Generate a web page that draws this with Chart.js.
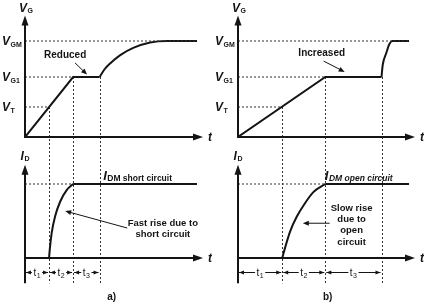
<!DOCTYPE html>
<html>
<head>
<meta charset="utf-8">
<script src="https://cdn.jsdelivr.net/npm/chart.js@4"></script>
<style>
html, body { margin: 0; padding: 0; background: #fff; }
#wrap { position: relative; width: 424px; height: 302px; }
.col { position: absolute; top: 0; width: 212px; height: 302px; }
</style>
</head>
<body>
<div id="wrap">
  <div class="col" style="left:0"><canvas id="chartA"></canvas></div>
  <div class="col" style="left:212px"><canvas id="chartB"></canvas></div>
</div>
<script>
// gate voltage levels (V_T, V_G1, V_GM) and drain current plateau
var levelSubs = ['T', 'G1', 'GM'];
var levelValues = [1, 2, 3.2];
var idmValue = 1;
var tEnd = 7.15;

// ends of t1, t2, t3
var phaseSubs = ['1', '2', '3'];
var phaseEndsA = [1, 2, 3.1];
var phaseEndsB = [1.85, 3.65, 6.0];

// a) short circuit
var vgLineA = [[0, 0], [2, 2], [3.1, 2]];
var vgRiseA = [[3.1, 2], [3.3, 2.25], [3.55, 2.46], [3.96, 2.73], [4.5, 2.97], [5.2, 3.15], [5.9, 3.2], [7.15, 3.2]];
var idRiseA = [[1, 0], [1.04, 0.15], [1.11, 0.34], [1.25, 0.56], [1.46, 0.76], [1.74, 0.92], [2, 1]];
var idFlatA = [[2, 1], [7.15, 1]];

// b) open circuit
var vgLineB = [[0, 0], [3.65, 2], [6.0, 2]];
var vgRiseB = [[6.0, 2], [6.05, 2.4], [6.2, 2.8], [6.33, 3.1], [6.46, 3.2], [7.15, 3.2]];
var idRiseB = [[1.85, 0], [1.97, 0.14], [2.18, 0.36], [2.46, 0.56], [2.8, 0.74], [3.15, 0.89], [3.65, 1]];
var idFlatB = [[3.65, 1], [7.15, 1]];

var FONT = '"Liberation Sans", Arial, sans-serif';
var INK = '#141414';
var xMax = 7.4, vAxisTop = 4.05, iAxisTop = 1.26, dimRow = -0.19, dimTickEnd = -0.34;

function xy(arr) {
  return arr.map(function (p) { return { x: p[0], y: p[1] }; });
}

function solid(pts, axis, smooth) {
  return {
    data: xy(pts), yAxisID: axis, showLine: true, pointRadius: 0,
    borderColor: INK, borderWidth: 2, fill: false, tension: 0,
    cubicInterpolationMode: smooth ? 'monotone' : 'default'
  };
}

function dotted(pts, axis) {
  return {
    data: xy(pts), yAxisID: axis, showLine: true, pointRadius: 0,
    borderColor: '#333', borderWidth: 1, borderDash: [2, 2], fill: false
  };
}

function head(ctx, x1, y1, x2, y2, len, half) {
  var a = Math.atan2(y2 - y1, x2 - x1), c = Math.cos(a), s = Math.sin(a);
  ctx.beginPath();
  ctx.moveTo(x2, y2);
  ctx.lineTo(x2 - len * c + half * s, y2 - len * s - half * c);
  ctx.lineTo(x2 - len * c - half * s, y2 - len * s + half * c);
  ctx.closePath();
  ctx.fill();
}

function arrow(ctx, x1, y1, x2, y2, len, half) {
  var a = Math.atan2(y2 - y1, x2 - x1);
  ctx.beginPath();
  ctx.moveTo(x1, y1);
  ctx.lineTo(x2 - len * 0.7 * Math.cos(a), y2 - len * 0.7 * Math.sin(a));
  ctx.stroke();
  head(ctx, x1, y1, x2, y2, len, half);
}

function subText(ctx, x, y, main, sub, mainFont, subFont, subDy) {
  ctx.font = mainFont;
  ctx.fillText(main, x, y);
  var w = ctx.measureText(main).width;
  ctx.font = subFont;
  ctx.fillText(sub, x + w + 0.5, y + subDy);
  return w + 0.5 + ctx.measureText(sub).width;
}

function subWidth(ctx, main, sub, mainFont, subFont) {
  ctx.font = mainFont;
  var w = ctx.measureText(main).width;
  ctx.font = subFont;
  return w + 0.5 + ctx.measureText(sub).width;
}

function makeDiagram(s) {
  return {
    id: 'diagram',
    beforeDatasetsDraw: function (chart) {
      var ctx = chart.ctx, x = chart.scales.x, v = chart.scales.v, i = chart.scales.i;
      ctx.save();
      ctx.strokeStyle = '#333';
      ctx.lineWidth = 1;
      ctx.setLineDash([2, 2]);
      s.ends.forEach(function (t, k) {
        var px = Math.round(x.getPixelForValue(t)) + 0.5;
        ctx.beginPath();
        ctx.moveTo(px, v.getPixelForValue(s.guideFrom[k]));
        ctx.lineTo(px, i.getPixelForValue(dimTickEnd));
        ctx.stroke();
      });
      ctx.restore();
    },
    afterDatasetsDraw: function (chart) {
      var ctx = chart.ctx, x = chart.scales.x, v = chart.scales.v, i = chart.scales.i;
      var x0 = x.getPixelForValue(0), xTip = x.getPixelForValue(xMax);
      ctx.save();
      ctx.fillStyle = INK;
      ctx.strokeStyle = INK;
      ctx.lineWidth = 2;

      // axes of both panels
      var vy0 = v.getPixelForValue(0), vTop = v.getPixelForValue(vAxisTop);
      var iy0 = i.getPixelForValue(0), iTop = i.getPixelForValue(iAxisTop), iBot = i.getPixelForValue(dimTickEnd);
      ctx.beginPath();
      ctx.moveTo(x0, vy0); ctx.lineTo(x0, vTop + 6);
      ctx.moveTo(x0 - 1, vy0); ctx.lineTo(xTip - 6, vy0);
      ctx.moveTo(x0, iBot); ctx.lineTo(x0, iTop + 6);
      ctx.moveTo(x0 - 1, iy0); ctx.lineTo(xTip - 6, iy0);
      ctx.stroke();
      head(ctx, x0, vy0, x0, vTop, 10, 3.5);
      head(ctx, x0, vy0, xTip, vy0, 10, 3.5);
      head(ctx, x0, iy0, x0, iTop, 10, 3.5);
      head(ctx, x0, iy0, xTip, iy0, 10, 3.5);

      // axis names
      var big = 'italic bold 12px ' + FONT, small = 'bold 7px ' + FONT;
      ctx.textBaseline = 'alphabetic';
      ctx.textAlign = 'left';
      var w = subWidth(ctx, 'V', 'G', big, small);
      subText(ctx, x0 - w / 2 + 1, vTop - 4, 'V', 'G', big, small, 1);
      w = subWidth(ctx, 'I', 'D', big, small);
      subText(ctx, x0 - w / 2, iTop - 5, 'I', 'D', big, small, 1);
      ctx.font = big;
      ctx.fillText('t', xTip + 5, vy0 + 4);
      ctx.fillText('t', xTip + 5, iy0 + 4);

      // level labels
      levelValues.forEach(function (lv, k) {
        subText(ctx, x0 - 23, v.getPixelForValue(lv) + 4, 'V', levelSubs[k], big, small, 2);
      });

      // I_DM title
      subText(ctx, x.getPixelForValue(s.iTitle.t), i.getPixelForValue(s.iTitle.i), 'I', s.iTitle.sub,
        'italic bold 13px ' + FONT, (s.iTitle.italic ? 'italic ' : '') + 'bold 8.5px ' + FONT, 1);

      // notes
      ctx.font = 'bold 10px ' + FONT;
      ctx.textAlign = 'center';
      ctx.textBaseline = 'middle';
      ctx.fillText(s.vNote.text, x.getPixelForValue(s.vNote.t), v.getPixelForValue(s.vNote.v));
      ctx.font = 'bold 9.5px ' + FONT;
      var ny = i.getPixelForValue(s.iNote.i);
      s.iNote.lines.forEach(function (ln, k) {
        ctx.fillText(ln, x.getPixelForValue(s.iNote.t), ny + k * s.iNote.gap);
      });
      ctx.lineWidth = 1;
      var a = s.vNote.arrow;
      arrow(ctx, x.getPixelForValue(a[0]), v.getPixelForValue(a[1]), x.getPixelForValue(a[2]), v.getPixelForValue(a[3]), 6, 2.5);
      a = s.iNote.arrow;
      arrow(ctx, x.getPixelForValue(a[0]), i.getPixelForValue(a[1]), x.getPixelForValue(a[2]), i.getPixelForValue(a[3]), 6, 2.5);

      // t1 t2 t3 dimension row
      var dy = Math.round(i.getPixelForValue(dimRow)) + 0.5;
      var bounds = [0].concat(s.ends);
      for (var k = 0; k < 3; k++) {
        var xa = x.getPixelForValue(bounds[k]) + 1, xb = x.getPixelForValue(bounds[k + 1]) - 1;
        ctx.beginPath();
        ctx.moveTo(xa, dy); ctx.lineTo(xb, dy);
        ctx.stroke();
        head(ctx, xb, dy, xa, dy, 5, 2);
        head(ctx, xa, dy, xb, dy, 5, 2);
        var lf = '10px ' + FONT, sf = '7px ' + FONT;
        var lw = subWidth(ctx, 't', phaseSubs[k], lf, sf);
        var xm = (xa + xb) / 2;
        ctx.fillStyle = '#fff';
        ctx.fillRect(xm - lw / 2 - 1.5, dy - 4, lw + 3, 8);
        ctx.fillStyle = INK;
        ctx.textAlign = 'left';
        ctx.textBaseline = 'alphabetic';
        subText(ctx, xm - lw / 2, dy + 3, 't', phaseSubs[k], lf, sf, 2);
      }

      // caption
      ctx.font = 'bold 10px ' + FONT;
      ctx.textAlign = 'center';
      ctx.textBaseline = 'middle';
      ctx.fillText(s.caption.text, x.getPixelForValue(s.caption.t), i.getPixelForValue(s.caption.i));
      ctx.restore();
    }
  };
}

function build(id, padLeft, data, s) {
  var h = 302;
  new Chart(document.getElementById(id), {
    type: 'scatter',
    data: { datasets: data },
    options: {
      responsive: true,
      maintainAspectRatio: false,
      animation: false,
      events: [],
      layout: { padding: { left: padLeft, right: 9, top: 0, bottom: 0 } },
      plugins: { legend: { display: false }, tooltip: { enabled: false } },
      scales: {
        x: { type: 'linear', min: 0, max: xMax, display: false },
        v: { type: 'linear', position: 'left', min: -(h - 137) / 30, max: 137 / 30, display: false },
        i: { type: 'linear', position: 'left', min: -(h - 258) / 74, max: 258 / 74, display: false }
      }
    },
    plugins: [makeDiagram(s)]
  });
}

function guides(ends) {
  return [
    dotted([[0, levelValues[0]], [ends[0], levelValues[0]]], 'v'),
    dotted([[0, levelValues[1]], [ends[1], levelValues[1]]], 'v'),
    dotted([[0, levelValues[2]], [tEnd, levelValues[2]]], 'v'),
    dotted([[0, idmValue], [ends[1], idmValue]], 'i')
  ];
}

build('chartA', 25, guides(phaseEndsA).concat([
  solid(vgLineA, 'v', false), solid(vgRiseA, 'v', true),
  solid(idRiseA, 'i', true), solid(idFlatA, 'i', false)
]), {
  ends: phaseEndsA,
  guideFrom: [levelValues[0], levelValues[1], levelValues[1]],
  vNote: { text: 'Reduced', t: 1.67, v: 2.73, arrow: [2.08, 2.47, 2.58, 2.08] },
  iTitle: { sub: 'DM short circuit', italic: false, t: 3.25, i: 1.05 },
  iNote: { lines: ['Fast rise due to', 'short circuit'], t: 5.73, i: 0.47, gap: 11, arrow: [4.25, 0.405, 1.67, 0.635] },
  caption: { text: 'a)', t: 3.6, i: -0.53 }
});

build('chartB', 26, guides(phaseEndsB).concat([
  solid(vgLineB, 'v', false), solid(vgRiseB, 'v', true),
  solid(idRiseB, 'i', true), solid(idFlatB, 'i', false)
]), {
  ends: phaseEndsB,
  guideFrom: [levelValues[0], levelValues[1], levelValues[1]],
  vNote: { text: 'Increased', t: 3.5, v: 2.8, arrow: [3.58, 2.53, 4.46, 2.17] },
  iTitle: { sub: 'DM open circuit', italic: true, t: 3.63, i: 1.05 },
  iNote: { lines: ['Slow rise', 'due to', 'open', 'circuit'], t: 4.75, i: 0.676, gap: 11.3, arrow: [3.83, 0.47, 2.71, 0.47] },
  caption: { text: 'b)', t: 3.75, i: -0.53 }
});
</script>
</body>
</html>
